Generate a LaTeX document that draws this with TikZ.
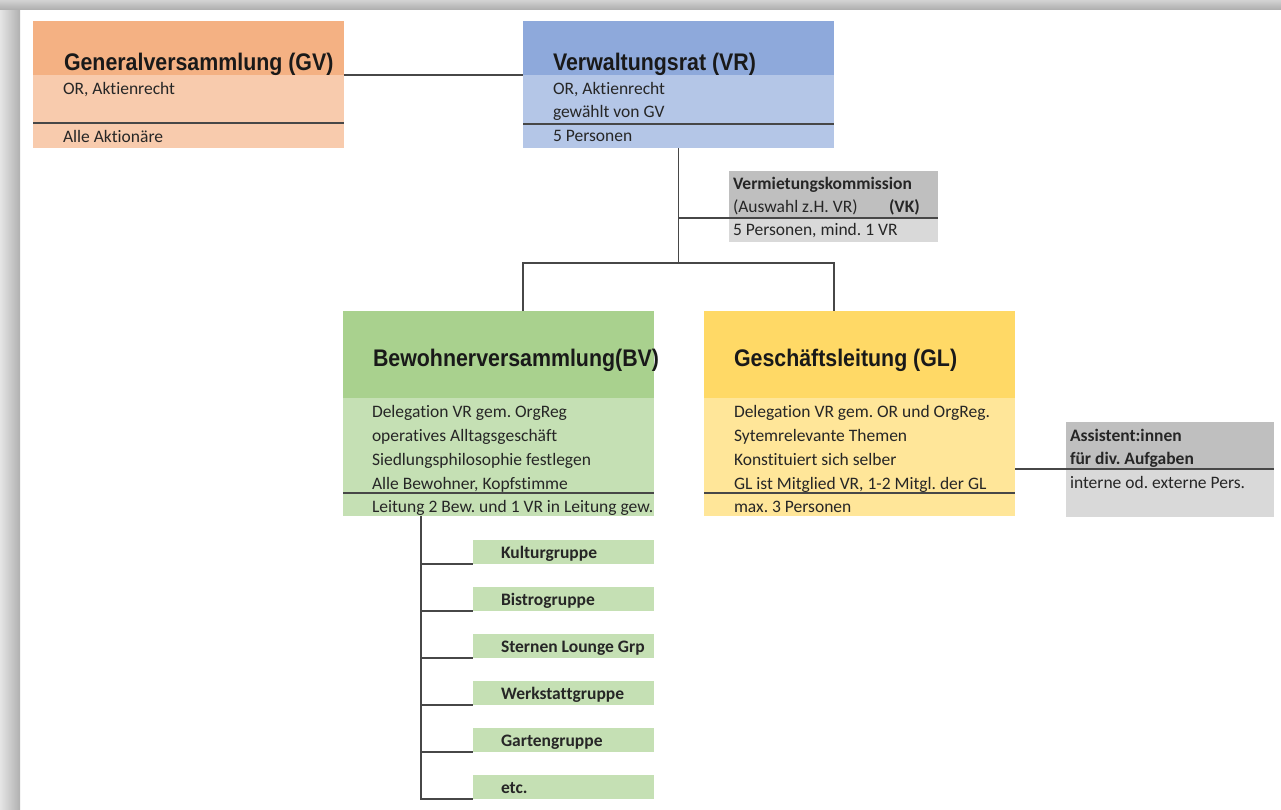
\documentclass[tikz,border=0pt]{standalone}
\usepackage{fontspec}
\setmainfont{Carlito}[Ligatures=NoCommon]
\newfontfamily\headfont{Liberation Sans}[FakeStretch=0.89]
\usetikzlibrary{positioning}
\definecolor{gvdark}{HTML}{F4B183}
\definecolor{gvlight}{HTML}{F8CBAD}
\definecolor{vrdark}{HTML}{8EA9DB}
\definecolor{vrlight}{HTML}{B4C6E7}
\definecolor{bvdark}{HTML}{A9D18E}
\definecolor{bvlight}{HTML}{C5E0B4}
\definecolor{gldark}{HTML}{FFD966}
\definecolor{gllight}{HTML}{FFE699}
\definecolor{greydark}{HTML}{BFBFBF}
\definecolor{greylight}{HTML}{D9D9D9}
\definecolor{ink}{HTML}{262626}
\frenchspacing

\begin{document}
\begin{tikzpicture}[x=1pt,y=-1pt]
    \tikzstyle{every node}=[inner sep=0,outer sep=0,text=ink]
    \tikzstyle{part}=[rectangle,anchor=north west,minimum width=311]
    \tikzstyle{headtxt}=[anchor=base west,font=\headfont\bfseries\fontsize{24}{28}\selectfont,text=black!90]
    \tikzstyle{txt}=[anchor=base west,font=\fontsize{17.5}{21}\selectfont]
    \tikzstyle{btxt}=[anchor=base west,font=\bfseries\fontsize{17.5}{21}\selectfont]
    \tikzstyle{conn}=[draw=black!72,line width=1.5]
    \tikzstyle{grp}=[part,fill=bvlight,minimum width=181,minimum height=24]

    \useasboundingbox (0,0) rectangle (1281,809);
    \fill[white] (0,0) rectangle (1281,809);
    % frame shadow
    \shade[left color=gray!20,right color=gray!62] (0,0) rectangle (20,809);
    \shade[top color=gray!35,bottom color=gray!62] (0,0) rectangle (1281,9);

    % Generalversammlung
    \node[part,fill=gvdark,minimum height=54] (gvhead) at (33,21) {};
    \node[part,fill=gvlight,minimum height=73] (gvbody) at (33,75) {};
    \draw[conn] ([yshift=25]gvbody.south west) -- ([yshift=25]gvbody.south east);
    \node[headtxt] (gvname) at (64,70) {Generalversammlung (GV)};
    \node[txt] (gvline1) at (63,94) {OR, Aktienrecht};
    \node[txt] (gvline2) at (63,142) {Alle Aktionäre};

    % Verwaltungsrat
    \node[part,fill=vrdark,minimum height=54] (vrhead) at (523,21) {};
    \node[part,fill=vrlight,minimum height=73] (vrbody) at (523,75) {};
    \draw[conn] ([yshift=24]vrbody.south west) -- ([yshift=24]vrbody.south east);
    \node[headtxt] (vrname) at (553,70) {Verwaltungsrat (VR)};
    \node[txt] (vrline1) at (553,94) {OR, Aktienrecht};
    \node[txt] (vrline2) at (553,117.5) {gewählt von GV};
    \node[txt] (vrline3) at (553,141) {5 Personen};

    % Vermietungskommission
    \node[part,fill=greydark,minimum width=209,minimum height=47] (vkhead) at (729,171) {};
    \node[part,fill=greylight,minimum width=209,minimum height=24] (vkbody) at (729,218) {};
    \node[btxt] (vkname) at (733,189) {Vermietungskommission};
    \node[txt] (vkline1) at (733,212) {(Auswahl z.H. VR)};
    \node[btxt] (vkshort) at (889,212) {(VK)};
    \node[txt] (vkline2) at (733,235.5) {5 Personen, mind. 1 VR};

    % Bewohnerversammlung
    \node[part,fill=bvdark,minimum height=87] (bvhead) at (343,311) {};
    \node[part,fill=bvlight,minimum height=118] (bvbody) at (343,398) {};
    \draw[conn] ([yshift=23]bvbody.south west) -- ([yshift=23]bvbody.south east);
    \node[headtxt] (bvname) at (373,366) {Bewohnerversammlung(BV)};
    \node[txt] (bvline1) at (372,417) {Delegation VR gem. OrgReg};
    \node[txt] (bvline2) at (372,441) {operatives Alltagsgeschäft};
    \node[txt] (bvline3) at (372,465) {Siedlungsphilosophie festlegen};
    \node[txt] (bvline4) at (372,489) {Alle Bewohner, Kopfstimme};
    \node[txt] (bvline5) at (372,512) {Leitung 2 Bew. und 1 VR in Leitung gew.};

    % Geschaeftsleitung
    \node[part,fill=gldark,minimum height=87] (glhead) at (704,311) {};
    \node[part,fill=gllight,minimum height=118] (glbody) at (704,398) {};
    \draw[conn] ([yshift=23]glbody.south west) -- ([yshift=23]glbody.south east);
    \node[headtxt] (glname) at (734,366) {Geschäftsleitung (GL)};
    \node[txt] (glline1) at (734,417) {Delegation VR gem. OR und OrgReg.};
    \node[txt] (glline2) at (734,441) {Sytemrelevante Themen};
    \node[txt] (glline3) at (734,465) {Konstituiert sich selber};
    \node[txt] (glline4) at (734,489) {GL ist Mitglied VR, 1-2 Mitgl. der GL};
    \node[txt] (glline5) at (734,512) {max. 3 Personen};

    % Assistenz
    \node[part,fill=greydark,minimum width=208,minimum height=47] (ashead) at (1066,422) {};
    \node[part,fill=greylight,minimum width=208,minimum height=48] (asbody) at (1066,469) {};
    \node[btxt] (asname) at (1070,441) {Assistent:innen};
    \node[btxt] (asline1) at (1070,464.5) {für div. Aufgaben};
    \node[txt] (asline2) at (1070,488) {interne od. externe Pers.};

    % Gruppen der BV
    \foreach \name [count=\i] in {Kulturgruppe,Bistrogruppe,Sternen Lounge Grp,Werkstattgruppe,Gartengruppe,etc.}
    {
        \node[grp] (grp\i) at (473,{540+47*(\i-1)}) {};
        \node[btxt] (grptxt\i) at (501,{558+47*(\i-1)}) {\name};
    }

    % connectors
    \coordinate (fork) at (678.5,263);
    \coordinate (bvtap) at (523,311);
    \coordinate (gltap) at (834,311);
    \coordinate (grptap) at (421,516);
    \draw[conn] (gvhead.south east) -- (vrhead.south west);
    \draw[conn] (vrbody.south) -- (fork);
    \draw[conn] (vrbody.south |- vkhead.south) -- (vkhead.south east);
    \draw[conn] (bvtap) |- (fork) -| (gltap);
    \draw[conn] (glbody.east |- ashead.south) -- (ashead.south east);
    \draw[conn] (grptap) |- (grp6.south west);
    \foreach \i in {1,...,5}
        \draw[conn] (grptap |- grp\i.south west) -- (grp\i.south west);
\end{tikzpicture}
\end{document}
